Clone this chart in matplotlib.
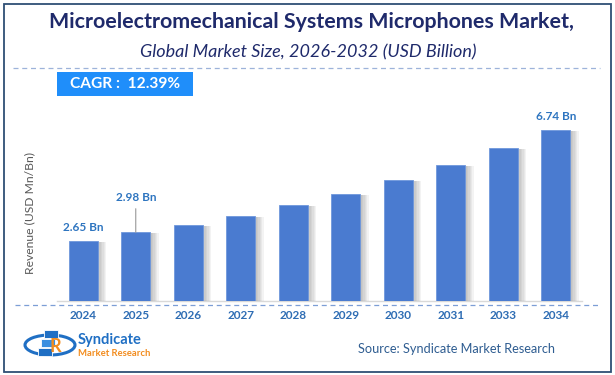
import matplotlib
matplotlib.use("Agg")
import matplotlib.pyplot as plt
import matplotlib.patches as mpatches
import matplotlib.patheffects as pe
from matplotlib.lines import Line2D

years = ["2024", "2025", "2026", "2027", "2028", "2029", "2030", "2031", "2033", "2034"]
values = [2.65, 2.98, 3.25, 3.57, 3.97, 4.38, 4.89, 5.45, 6.08, 6.74]
labeled = {0: "2.65 Bn", 1: "2.98 Bn", 9: "6.74 Bn"}

title = "Microelectromechanical Systems Microphones Market,"
subtitle = "Global Market Size, 2026-2032 (USD Billion)"
cagr_text = "CAGR :  12.39%"
ylabel = "Revenue (USD Mn/Bn)"
source = "Source: Syndicate Market Research"

plt.rcParams['font.family'] = ['Lato', 'DejaVu Sans']

W, H = 615, 375
fig = plt.figure(figsize=(W / 100, H / 100), dpi=100)
fig.patch.set_facecolor("white")

def fx(px):
    return px / W

def fy(py):
    return 1 - py / H

# outer border
fig.add_artist(mpatches.Rectangle((fx(3.5), fy(371.5)), fx(611) - fx(3.5), fy(3.5) - fy(371.5),
                                  transform=fig.transFigure, fill=False,
                                  edgecolor="#2f4f75", linewidth=1.3))

# title and subtitle
fig.text(fx(311), fy(22), title, ha="center", va="center", fontsize=15.4,
         fontweight="bold", color="#1f2a6b")
fig.text(fx(308), fy(52), subtitle, ha="center", va="center", fontsize=13,
         fontstyle="italic", color="#1f2a6b")

# dashed separator lines
fig.add_artist(Line2D([fx(13), fx(600)], [fy(67.7), fy(67.7)], transform=fig.transFigure,
                      color="#9db3da", linewidth=0.9, linestyle=(0, (4, 3))))
fig.add_artist(Line2D([fx(15), fx(600)], [fy(305), fy(305)], transform=fig.transFigure,
                      color="#7c9ed6", linewidth=0.9, linestyle=(0, (4, 3))))

# CAGR box
fig.add_artist(mpatches.Rectangle((fx(57), fy(96)), fx(193) - fx(57), fy(72) - fy(96),
                                  transform=fig.transFigure, facecolor="#1f8efa",
                                  edgecolor="none"))
fig.text(fx(70), fy(84.5), cagr_text, ha="left", va="center", fontsize=11.2,
         fontweight="bold", color="white")

# main axes
ax_left, ax_right = 57, 582
ax_bottom, ax_top = 300.7, 110
ax = fig.add_axes([fx(ax_left), fy(ax_bottom), fx(ax_right) - fx(ax_left), fy(ax_top) - fy(ax_bottom)])
ax.set_facecolor("none")
x = list(range(len(years)))
y0 = 0.467
bars = ax.bar(x, values, width=0.56, color="#4a7bd0", edgecolor="#6f97dc", linewidth=0.6,
              zorder=3)
shadow = [pe.SimplePatchShadow(offset=(k, -0.5), shadow_rgbFace="#7a7a7a", alpha=0.09)
          for k in range(1, 7)]
for b in bars:
    b.set_path_effects(shadow + [pe.Normal()])
ax.set_xlim(-0.5, len(years) - 0.5)
ax.set_ylim(y0, y0 + (ax_bottom - ax_top) * 0.03675)
for s in ["top", "right", "left"]:
    ax.spines[s].set_visible(False)
ax.spines["bottom"].set_color("#d9d9d9")
ax.spines["bottom"].set_linewidth(1)
ax.set_yticks([])
ax.set_xticks(x)
ax.set_xticklabels(years, fontsize=8.5, fontweight="bold", color="#2e6db4")
ax.tick_params(axis="x", length=0, pad=7)

# value labels
for i, txt in labeled.items():
    if i == 1:
        ax.annotate(txt, xy=(i, values[i]), xytext=(0, 21), textcoords="offset points",
                    ha="center", va="bottom", fontsize=8.5, fontweight="bold", color="#2e75c0",
                    arrowprops=dict(arrowstyle="-", color="#999999", lw=0.8,
                                    shrinkA=2, shrinkB=0))
    else:
        ax.annotate(txt, xy=(i, values[i]), xytext=(0, 6), textcoords="offset points",
                    ha="center", va="bottom", fontsize=8.5, fontweight="bold", color="#2e75c0")

# y label
fig.text(fx(30), fy(213), ylabel, rotation=90, ha="center", va="center", fontsize=8.7,
         color="#595959")

# logo (simplified)
fig.add_artist(mpatches.Ellipse((fx(50), fy(345)), fx(50), fy(0) - fy(20),
                                transform=fig.transFigure, fill=False,
                                edgecolor="#1f6fc4", linewidth=2.2))
for k, c in enumerate(["#1f6fc4", "#3b8fe0", "#1f6fc4"]):
    fig.add_artist(mpatches.Rectangle((fx(38 + k * 3), fy(356 - k * 9)), fx(14), fy(0) - fy(8),
                                      transform=fig.transFigure, facecolor=c,
                                      edgecolor="white", linewidth=0.6))
fig.text(fx(55), fy(346), "R", ha="center", va="center", fontsize=13, fontweight="bold",
         color="#f28c1e")
fig.text(fx(78), fy(340), "Syndicate", ha="left", va="center", fontsize=10.5,
         fontweight="bold", color="#1f6fc4")
fig.text(fx(78), fy(353), "Market Research", ha="left", va="center", fontsize=6.8,
         fontweight="bold", color="#f28c1e")

# source
fig.text(fx(555), fy(349), source, ha="right", va="center", fontsize=9.2, color="#2f5d91")

fig.savefig("out.png", dpi=100, facecolor="white")
